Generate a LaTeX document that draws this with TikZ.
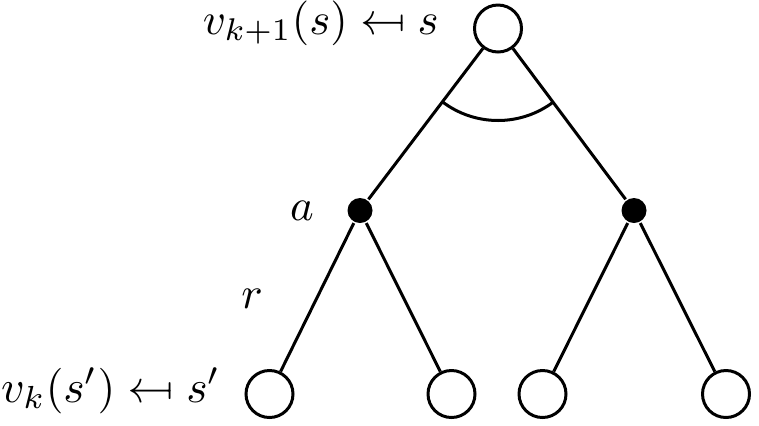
\documentclass[tikz,border=0pt]{standalone}
\usepackage{amsmath}
\newcommand{\revmapsto}{\mathrel{\reflectbox{$\mapsto$}}}
\begin{document}
\begin{tikzpicture}[x=0.5pt,y=-0.5pt,line width=1.5pt,
  state/.style={circle,draw,fill=white,minimum size=23.5pt,inner sep=0pt},
  act/.style={circle,fill=black,minimum size=12.5pt,inner sep=0pt},
  lbl/.style={inner sep=0pt}]
\useasboundingbox (0,0) rectangle (759,425);
\node[state] (top) at (498,28.5) {};
\node[act] (a1) at (360,210.5) {};
\node[act] (a2) at (634,210.5) {};
\node[state] (b1) at (269.5,394) {};
\node[state] (b2) at (451.5,394) {};
\node[state] (b3) at (542.5,394) {};
\node[state] (b4) at (726,394) {};
\draw (top) -- (a1);
\draw (top) -- (a2);
\draw (a1) -- (b1);
\draw (a1) -- (b2);
\draw (a2) -- (b3);
\draw (a2) -- (b4);
\draw ([shift={(232.8:46pt)}]top.center) arc[start angle=232.8,end angle=307.2,radius=46pt];
\node[lbl,anchor=base east] (ltop) at (440,34) {\scalebox{2.24}{$v_{k+1}(s)\revmapsto s$}};
\node[lbl,anchor=base] (la) at (302,220) {\scalebox{2.24}{$a$}};
\node[lbl,anchor=base] (lr) at (252,308) {\scalebox{2.24}{$r$}};
\node[lbl,anchor=base east] (lbot) at (222,402) {\scalebox{2.28}{$v_k(s')\revmapsto s'$}};
\end{tikzpicture}
\end{document}
